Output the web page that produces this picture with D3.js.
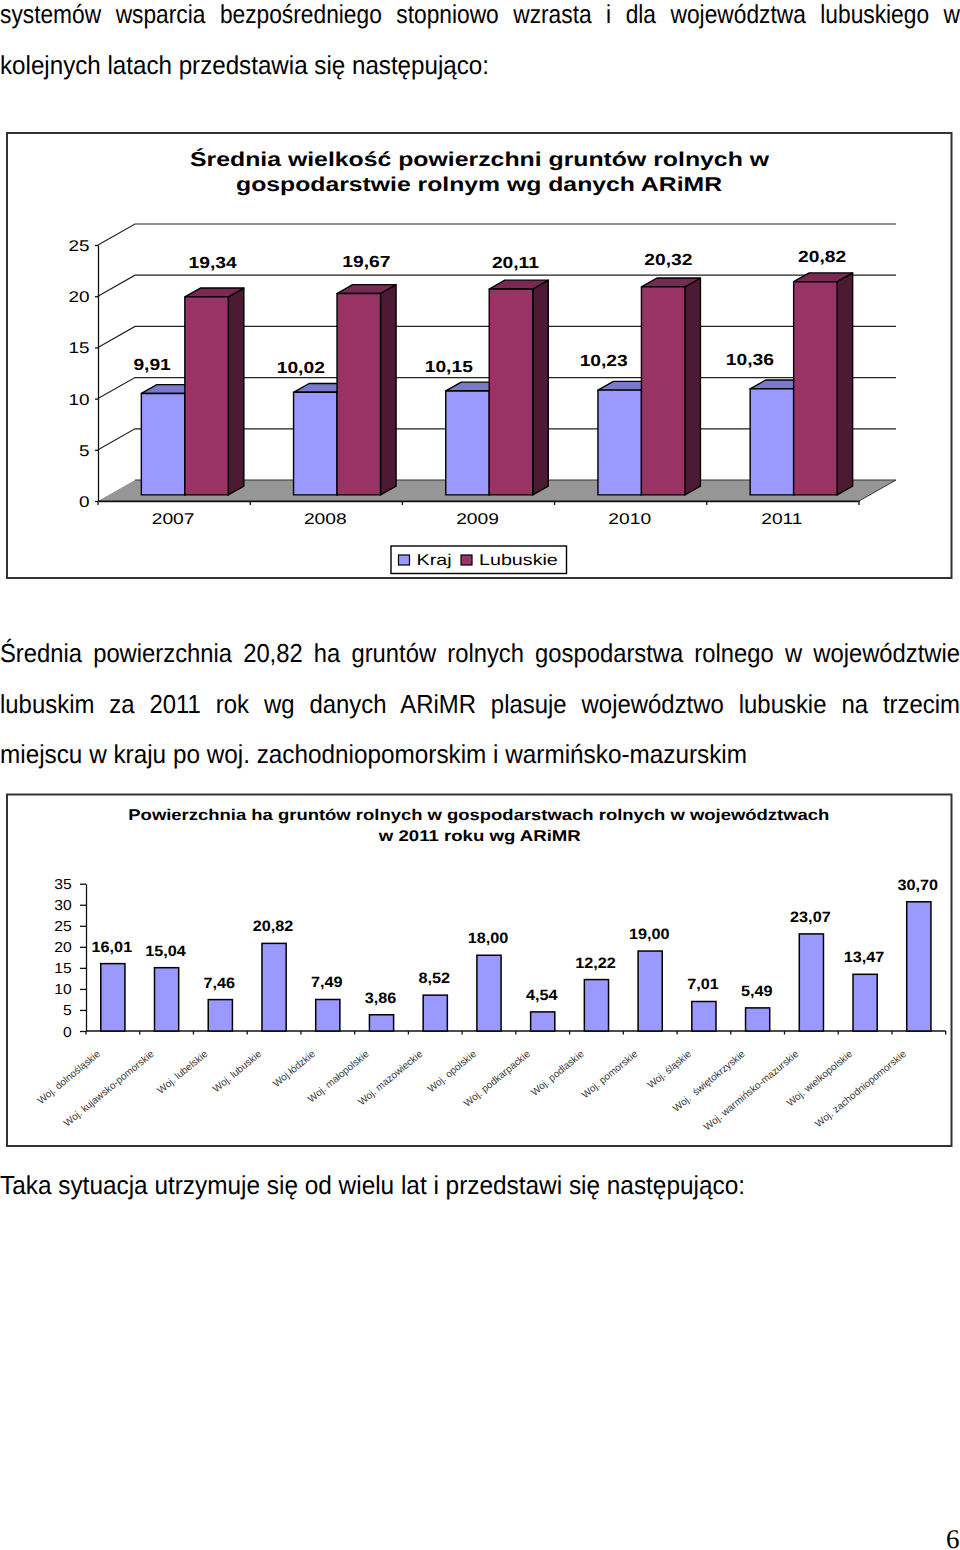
<!DOCTYPE html>
<html lang="pl">
<head>
<meta charset="utf-8">
<title>Powierzchnia gruntów rolnych</title>
<script src="https://cdn.jsdelivr.net/npm/d3@7"></script>
<style>
  body { margin: 0; background: #fff; }
  svg { display: block; }
  text { font-family: "Liberation Sans", Arial, sans-serif; fill: #000; text-rendering: geometricPrecision; }
</style>
</head>
<body>
<svg id="page" width="960" height="1550"></svg>
<script>
var width = 960;
var height = 1550;

// Data
const years = ["2007", "2008", "2009", "2010", "2011"];
const krajValues = [9.91, 10.02, 10.15, 10.23, 10.36];
const lubuskieValues = [19.34, 19.67, 20.11, 20.32, 20.82];
const seriesNames = ["Kraj", "Lubuskie"];
const title1 = ["Średnia wielkość powierzchni gruntów rolnych w", "gospodarstwie rolnym wg danych ARiMR"];

const voivodeships = [
    "Woj. dolnośląskie", "Woj. kujawsko-pomorskie", "Woj. lubelskie", "Woj. lubuskie",
    "Woj.łódzkie", "Woj. małopolskie", "Woj. mazowieckie", "Woj. opolskie",
    "Woj. podkarpackie", "Woj. podlaskie", "Woj. pomorskie", "Woj. śląskie",
    "Woj.\u00a0 świętokrzyskie", "Woj. warmińsko-mazurskie", "Woj. wielkopolskie", "Woj. zachodniopomorskie"
];
const areaValues = [16.01, 15.04, 7.46, 20.82, 7.49, 3.86, 8.52, 18.00, 4.54, 12.22, 19.00, 7.01, 5.49, 23.07, 13.47, 30.70];
const title2 = ["Powierzchnia ha gruntów rolnych w gospodarstwach rolnych w województwach", "w 2011 roku wg ARiMR"];

const svg = d3.select("#page");
const fmt = v => v.toFixed(2).replace(".", ",");
const fontBody = 26;

// Stretched / squeezed text, the scan has everything at odd aspect ratios
function stretched(sel, x, y, txt, opts) {
    const o = opts || {};
    const t = sel.append("text")
        .attr("font-size", o.size || 15)
        .attr("font-weight", o.bold ? "bold" : "normal")
        .attr("text-anchor", o.anchor || "middle")
        .text(txt);
    let sx = o.sx || 1;
    if (o.fit) sx = o.fit / t.node().getComputedTextLength();
    t.attr("transform", `translate(${x},${y}) scale(${sx},1)`);
    return t;
}

// Body paragraphs
const bodyLines = [
    {text: "systemów wsparcia bezpośredniego stopniowo wzrasta i dla województwa lubuskiego w", y: 23, w: 960, squeeze: 0.875},
    {text: "kolejnych latach przedstawia się następująco:", y: 74, w: 489},
    {text: "Średnia powierzchnia 20,82 ha gruntów rolnych gospodarstwa rolnego w województwie", y: 662, w: 960, squeeze: 0.915},
    {text: "lubuskim za 2011 rok wg danych ARiMR plasuje województwo lubuskie na trzecim", y: 713, w: 960, squeeze: 0.92},
    {text: "miejscu w kraju po woj. zachodniopomorskim i warmińsko-mazurskim", y: 763, w: 747},
    {text: "Taka sytuacja utrzymuje się od wielu lat i przedstawi się następująco:", y: 1194, w: 745}
];
bodyLines.forEach(line => {
    const t = svg.append("text").attr("font-size", fontBody).text(line.text);
    const natural = t.node().getComputedTextLength();
    if (line.squeeze) {
        const gaps = line.text.split(" ").length - 1;
        t.attr("word-spacing", (line.w / line.squeeze - natural) / gaps)
            .attr("transform", `translate(0,${line.y}) scale(${line.squeeze},1)`);
    } else {
        t.attr("transform", `translate(0,${line.y}) scale(${line.w / natural},1)`);
    }
});
svg.append("text").attr("x", 946).attr("y", 1548)
    .attr("font-size", 27).style("font-family", "'Liberation Serif', serif").text("6");

// --- Chart 1: 3D clustered columns ---
const c1 = svg.append("g");
c1.append("rect").attr("x", 7).attr("y", 133).attr("width", 944.5).attr("height", 445)
    .attr("fill", "#fff").attr("stroke", "#333").attr("stroke-width", 2);
stretched(c1, 479.5, 166, title1[0], {size: 20, bold: true, fit: 579});
stretched(c1, 479, 191, title1[1], {size: 20, bold: true, fit: 486});

const depthX = 37, depthY = 21;
const x3 = d3.scaleBand().domain(years).range([98, 859]);
const y3 = d3.scaleLinear().domain([0, 25]).range([501, 245]);
const x3s = d3.scaleBand().domain(seriesNames).range([0, x3.bandwidth()]).paddingOuter(0.75).paddingInner(0);
const project = (px, v, z) => [px + z * depthX, y3(v) - z * depthY];
const yTicks3 = y3.ticks(5);

// floor
c1.append("path")
    .attr("d", d3.line()([project(98, 0, 0), project(859, 0, 0), project(859, 0, 1), project(98, 0, 1)]))
    .attr("fill", "#969696").attr("stroke", "#333").attr("stroke-width", 1);

// gridlines on the back wall and the left side
c1.selectAll(".grid").data(yTicks3.filter(d => d > 0)).join("path")
    .attr("class", "grid")
    .attr("d", d => d3.line()([project(98, d, 0), project(98, d, 1), project(859, d, 1)]))
    .attr("fill", "none").attr("stroke", "#222").attr("stroke-width", 1.2);

// axes
const yAxis3 = c1.append("g").attr("transform", "translate(98,0)")
    .call(d3.axisLeft(y3).tickValues(yTicks3).tickSize(3).tickSizeOuter(0));
yAxis3.selectAll("text").attr("x", null).attr("dy", null).attr("font-size", 15.5)
    .attr("font-family", "'Liberation Sans'")
    .attr("transform", "translate(-8.5,5.5) scale(1.22,1)");
yAxis3.selectAll("path,line").attr("stroke", "#111").attr("stroke-width", 1.3);

const xAxis3 = c1.append("g").attr("transform", "translate(0,501)")
    .call(d3.axisBottom(x3).tickSize(0).tickPadding(0));
xAxis3.select(".domain").attr("stroke", "#111").attr("stroke-width", 1.5);
xAxis3.selectAll("text").attr("y", null).attr("dy", null).attr("font-size", 15.5)
    .attr("font-family", "'Liberation Sans'")
    .attr("transform", "translate(-1,22.5) scale(1.24,1)");
c1.selectAll(".xtick").data(years.concat("end")).join("line")
    .attr("class", "xtick")
    .attr("x1", (d, i) => 98 + i * x3.step()).attr("x2", (d, i) => 98 + i * x3.step())
    .attr("y1", 501).attr("y2", 505).attr("stroke", "#111").attr("stroke-width", 1.3);

// columns
const zFront = 0.29, zBack = 0.71;
const seriesColors = {
    Kraj: {front: "#9999ff", top: "#7a7acc", side: "#5c5c99"},
    Lubuskie: {front: "#993366", top: "#7a2952", side: "#4d1a33"}
};
const bars3 = [];
years.forEach((year, i) => {
    bars3.push({year, series: "Kraj", value: krajValues[i], i});
    bars3.push({year, series: "Lubuskie", value: lubuskieValues[i], i});
});
const poly = d3.line().curve(d3.curveLinearClosed);
const barEdges = d => {
    const x0 = x3(d.year) + x3s(d.series), x1 = x0 + x3s.bandwidth();
    return {x0, x1};
};
const barG = c1.selectAll(".bar3").data(bars3).join("g").attr("class", "bar3")
    .attr("stroke", "#000").attr("stroke-width", 1.4).attr("stroke-linejoin", "round");
barG.append("path")
    .attr("fill", d => seriesColors[d.series].side)
    .attr("d", d => {
        const {x1} = barEdges(d);
        return poly([project(x1, 0, zFront), project(x1, d.value, zFront), project(x1, d.value, zBack), project(x1, 0, zBack)]);
    });
barG.append("path")
    .attr("fill", d => seriesColors[d.series].top)
    .attr("d", d => {
        const {x0, x1} = barEdges(d);
        return poly([project(x0, d.value, zFront), project(x1, d.value, zFront), project(x1, d.value, zBack), project(x0, d.value, zBack)]);
    });
barG.append("path")
    .attr("fill", d => seriesColors[d.series].front)
    .attr("d", d => {
        const {x0, x1} = barEdges(d);
        return poly([project(x0, 0, zFront), project(x1, 0, zFront), project(x1, d.value, zFront), project(x0, d.value, zFront)]);
    });

// data labels were dragged by hand in the original, so they carry a nudge
const labelNudge = {
    Kraj: [[-11, -28.5], [-14.5, -25], [-18.7, -24], [-16, -30], [-22, -29]],
    Lubuskie: [[6, -34], [7.6, -32], [4.4, -26], [5.2, -27], [6.7, -25]]
};
bars3.forEach(d => {
    const {x0, x1} = barEdges(d);
    const p = project((x0 + x1) / 2, d.value, zFront);
    const n = labelNudge[d.series][d.i];
    stretched(c1, p[0] + n[0], p[1] + n[1] + 5.5, fmt(d.value), {size: 16, bold: true, sx: 1.2});
});

// legend
const legend = c1.append("g").attr("transform", "translate(391,546)");
legend.append("rect").attr("width", 175.5).attr("height", 27.5)
    .attr("fill", "#fff").attr("stroke", "#000").attr("stroke-width", 1.4);
const legendX = d3.scaleOrdinal().domain(seriesNames).range([7.5, 70]);
seriesNames.forEach(name => {
    legend.append("rect").attr("x", legendX(name)).attr("y", 9)
        .attr("width", 11).attr("height", 10)
        .attr("fill", seriesColors[name].front).attr("stroke", "#000").attr("stroke-width", 1.2);
    stretched(legend, legendX(name) + 18, 19, name, {size: 15.5, sx: 1.27, anchor: "start"});
});

// --- Chart 2: flat columns ---
const c2 = svg.append("g");
c2.append("rect").attr("x", 7).attr("y", 794.5).attr("width", 944.5).attr("height", 351.5)
    .attr("fill", "#fff").attr("stroke", "#333").attr("stroke-width", 2);
stretched(c2, 478.8, 820, title2[0], {size: 15.5, bold: true, fit: 701});
stretched(c2, 479.8, 840.7, title2[1], {size: 15.5, bold: true, fit: 202});

const x2 = d3.scaleBand().domain(voivodeships).range([86, 945.7]).paddingInner(0.55).paddingOuter(0.275);
const y2 = d3.scaleLinear().domain([0, 35]).range([1031, 883.7]);

const yAxis2 = c2.append("g").attr("transform", "translate(86,0)")
    .call(d3.axisLeft(y2).ticks(7).tickSize(6).tickSizeOuter(0));
yAxis2.selectAll("text").attr("x", null).attr("dy", null).attr("font-size", 14.5)
    .attr("font-family", "'Liberation Sans'")
    .attr("transform", "translate(-14.3,5) scale(1.08,1)");
yAxis2.selectAll("path,line").attr("stroke", "#111").attr("stroke-width", 1.3);

c2.append("line").attr("x1", 86).attr("x2", 945.7).attr("y1", y2(0)).attr("y2", y2(0))
    .attr("stroke", "#111").attr("stroke-width", 1.5);
c2.selectAll(".xtick2").data(d3.range(voivodeships.length + 1)).join("line")
    .attr("class", "xtick2")
    .attr("x1", d => 86 + d * x2.step()).attr("x2", d => 86 + d * x2.step())
    .attr("y1", y2(0)).attr("y2", y2(0) + 3.5)
    .attr("stroke", "#111").attr("stroke-width", 1.3);

c2.selectAll(".bar2").data(areaValues).join("rect")
    .attr("class", "bar2")
    .attr("x", (d, i) => x2(voivodeships[i]))
    .attr("y", d => y2(d))
    .attr("width", x2.bandwidth())
    .attr("height", d => y2(0) - y2(d))
    .attr("fill", "#9999ff").attr("stroke", "#000").attr("stroke-width", 1.5);

areaValues.forEach((d, i) => {
    const cx = x2(voivodeships[i]) + x2.bandwidth() / 2;
    stretched(c2, cx - 1, y2(d) - 12, fmt(d), {size: 15, bold: true, sx: 1.08});
    c2.append("text")
        .attr("font-size", 10)
        .attr("text-anchor", "end")
        .style("fill", "#333")
        .attr("transform", `translate(${cx - 12},1055) rotate(-39.5)`)
        .text(voivodeships[i]);
});
</script>
</body>
</html>
